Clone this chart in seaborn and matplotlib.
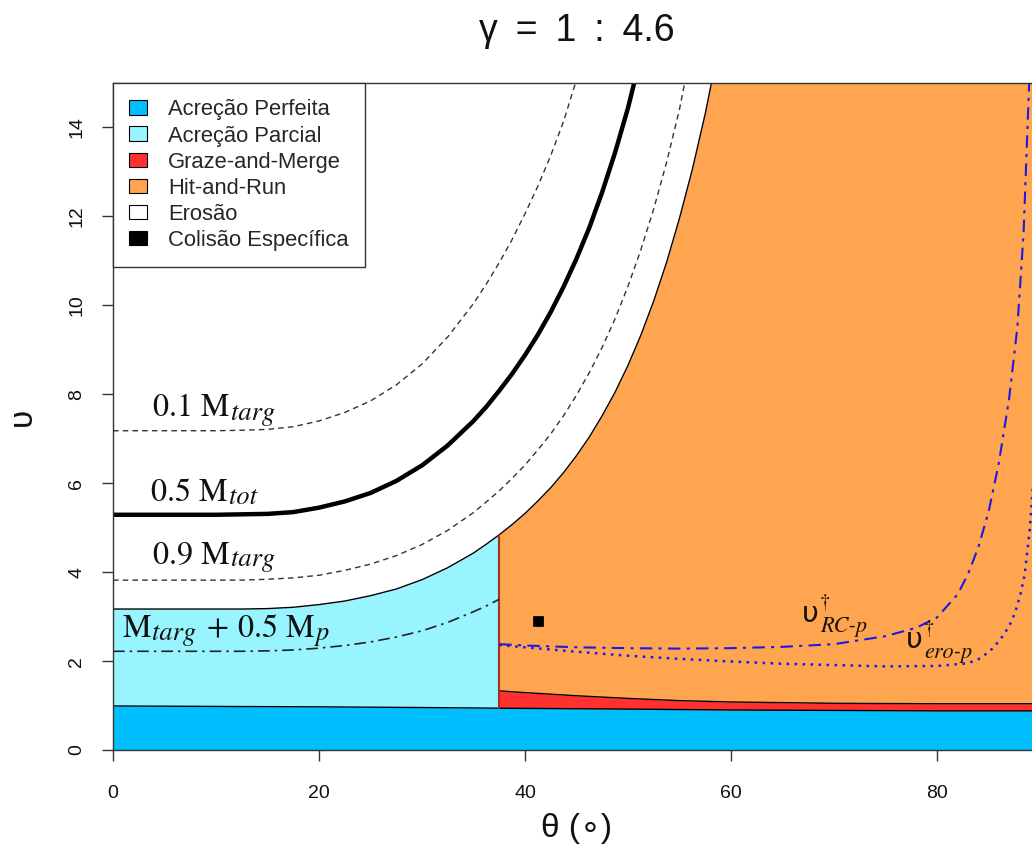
import numpy as np
import matplotlib
matplotlib.use("Agg")
import matplotlib.pyplot as plt
import seaborn as sns
from matplotlib.patches import Patch
from matplotlib.transforms import offset_copy

sns.set_theme(style="white")
plt.rcParams["font.family"] = ["Liberation Sans", "DejaVu Sans"]

# ---------------- data ----------------
title_text = "γ \u2009= \u20091 \u2009: \u20094.6"
legend_labels = ["Acreção Perfeita", "Acreção Parcial", "Graze-and-Merge",
                 "Hit-and-Run", "Erosão", "Colisão Específica"]
legend_colors = ["#00BFFF", "#98F5FF", "#FF3030", "#FFA54F", "#FFFFFF", "#000000"]

x_ticks = [0, 20, 40, 60, 80]
y_ticks = [0, 2, 4, 6, 8, 10, 12, 14]

theta_split = 37.5  # boundary between partial accretion and hit-and-run

# upper edge of perfect accretion
theta_pa = [0, 10, 20, 30, 37.5, 50, 60, 70, 80, 90]
v_pa = [0.99, 0.98, 0.97, 0.955, 0.94, 0.92, 0.90, 0.89, 0.88, 0.88]

# upper edge of graze-and-merge
theta_gm = [37.5, 40, 45, 50, 55, 60, 70, 80, 90]
v_gm = [1.33, 1.29, 1.22, 1.16, 1.11, 1.08, 1.05, 1.04, 1.04]

# erosion onset (lower edge of the white region)
theta_ero = [0, 5, 10, 12.5, 15, 17.5, 20, 22.5, 25, 27.5, 30, 32.5, 35, 36.25,
             37.5, 38.75, 40, 41.25, 42.5, 43.75, 45, 46.25, 47.5, 48.75, 50,
             51.25, 52.5, 53.75, 55, 56.25, 57.5, 58.1]
v_ero = [3.17, 3.17, 3.17, 3.17, 3.18, 3.21, 3.27, 3.35, 3.47, 3.62, 3.83, 4.10,
         4.43, 4.63, 4.84, 5.07, 5.32, 5.60, 5.90, 6.24, 6.62, 7.04, 7.52, 8.05,
         8.65, 9.33, 10.10, 10.97, 11.96, 13.06, 14.31, 15.0]

# 0.1 M_targ
theta_01 = [0, 5, 10, 12.5, 15, 17.5, 20, 22.5, 25, 27.5, 30, 32.5, 35, 36.25,
            37.5, 38.75, 40, 41.25, 42.5, 43.75, 44.9]
v_01 = [7.18, 7.18, 7.18, 7.19, 7.21, 7.27, 7.40, 7.59, 7.85, 8.21, 8.68, 9.29,
        10.04, 10.48, 10.96, 11.48, 12.06, 12.68, 13.37, 14.14, 15.0]

# 0.5 M_tot
theta_05 = [0, 5, 10, 12.5, 15, 17.5, 20, 22.5, 25, 27.5, 30, 32.5, 35, 36.25,
            37.5, 38.75, 40, 41.25, 42.5, 43.75, 45, 46.25, 47.5, 48.75, 50, 50.6]
v_05 = [5.29, 5.29, 5.29, 5.30, 5.31, 5.35, 5.45, 5.59, 5.78, 6.05, 6.40, 6.85,
        7.40, 7.72, 8.08, 8.46, 8.88, 9.34, 9.85, 10.42, 11.05, 11.75, 12.55,
        13.44, 14.44, 15.0]

# 0.9 M_targ
theta_09 = [0, 5, 10, 12.5, 15, 17.5, 20, 22.5, 25, 27.5, 30, 32.5, 35, 36.25,
            37.5, 38.75, 40, 41.25, 42.5, 43.75, 45, 46.25, 47.5, 48.75, 50,
            51.25, 52.5, 53.75, 55, 55.5]
v_09 = [3.82, 3.82, 3.82, 3.82, 3.84, 3.87, 3.93, 4.04, 4.18, 4.37, 4.62, 4.94,
        5.34, 5.58, 5.83, 6.11, 6.41, 6.75, 7.11, 7.52, 7.98, 8.49, 9.06, 9.70,
        10.43, 11.25, 12.17, 13.22, 14.41, 15.0]

# M_targ + 0.5 M_p
theta_mp = [0, 5, 10, 12.5, 15, 17.5, 20, 22.5, 25, 27.5, 30, 32.5, 35, 36.25, 37.5]
v_mp = [2.22, 2.22, 2.22, 2.22, 2.23, 2.25, 2.29, 2.35, 2.43, 2.54, 2.68, 2.87,
        3.11, 3.24, 3.39]

# v_RC-p (blue dash-dot)
theta_rc = [37.5, 40, 45, 50, 55, 60, 65, 70, 75, 78, 80, 82, 83, 84, 85, 86,
            87, 87.8, 88.4, 88.95]
v_rc = [2.38, 2.35, 2.31, 2.29, 2.28, 2.29, 2.32, 2.38, 2.56, 2.75, 2.98, 3.50,
        3.95, 4.55, 5.35, 6.45, 7.90, 9.50, 11.60, 15.0]

# v_ero-p (blue dotted)
theta_ep = [37.5, 40, 45, 50, 55, 60, 65, 70, 75, 80, 83, 84.2, 85.2, 86.1, 87,
            87.6, 88.1, 88.5, 89.0, 89.4]
v_ep = [2.36, 2.31, 2.21, 2.12, 2.05, 1.99, 1.94, 1.91, 1.88, 1.89, 1.95, 2.06,
        2.24, 2.47, 2.78, 3.10, 3.50, 3.93, 4.94, 6.2]

# specific collision
theta_pt = [41.3]
v_pt = [2.9]

# ---------------- figure ----------------
fig = plt.figure(figsize=(10.32, 8.5), dpi=100)
ax = fig.add_axes([113 / 1032, 100 / 850, 927 / 1032, 667 / 850])
ax.set_xlim(0, 90)
ax.set_ylim(0, 15)

t_pa = np.asarray(theta_pa, float); y_pa = np.asarray(v_pa, float)
t_gm = np.asarray(theta_gm, float); y_gm = np.asarray(v_gm, float)
t_er = np.asarray(theta_ero, float); y_er = np.asarray(v_ero, float)

# perfect accretion
ax.fill_between(t_pa, 0, y_pa, color=legend_colors[0], lw=0, zorder=1)
# partial accretion
t_c = t_er[t_er <= theta_split]
ax.fill_between(t_c, np.interp(t_c, t_pa, y_pa), np.interp(t_c, t_er, y_er),
                color=legend_colors[1], lw=0, zorder=1)
# graze-and-merge
ax.fill_between(t_gm, np.interp(t_gm, t_pa, y_pa), y_gm,
                color=legend_colors[2], lw=0, zorder=1)
# hit-and-run
t_o = np.union1d(t_gm, t_er[t_er >= theta_split])
ax.fill_between(t_o, np.interp(t_o, t_gm, y_gm), np.interp(t_o, t_er, y_er),
                color=legend_colors[3], lw=0, zorder=1)

kw = dict(ax=ax, estimator=None, sort=False, legend=False)
# region edges
sns.lineplot(x=t_pa, y=y_pa, color="black", lw=1.0, zorder=2, **kw)
sns.lineplot(x=t_gm, y=y_gm, color="black", lw=1.0, zorder=2, **kw)
sns.lineplot(x=t_er, y=y_er, color="black", lw=1.0, zorder=2, **kw)
ax.plot([theta_split, theta_split],
        [np.interp(theta_split, t_pa, y_pa), np.interp(theta_split, t_er, y_er)],
        color="#A8301E", lw=1.5, zorder=2)

# mass contours
sns.lineplot(x=theta_01, y=v_01, color="#333333", lw=1.0,
             linestyle=(0, (4, 3)), zorder=3, **kw)
sns.lineplot(x=theta_09, y=v_09, color="#333333", lw=1.0,
             linestyle=(0, (4, 3)), zorder=3, **kw)
sns.lineplot(x=theta_05, y=v_05, color="black", lw=3.2, zorder=3, **kw)
sns.lineplot(x=theta_mp, y=v_mp, color="#222222", lw=1.2,
             linestyle=(0, (7, 3, 1.5, 3)), zorder=3, **kw)

# blue curves
sns.lineplot(x=theta_rc, y=v_rc, color="#1A1AE6", lw=1.5,
             linestyle=(0, (6, 3, 1.5, 3)), zorder=3, **kw)
sns.lineplot(x=theta_ep, y=v_ep, color="#1A1AE6", lw=1.8,
             linestyle=(0, (1, 2.2)), zorder=3, **kw)

sns.scatterplot(x=theta_pt, y=v_pt, marker="s", s=45, color="black",
                edgecolor="black", zorder=4, ax=ax, legend=False)

# ---------------- curve labels (built piece by piece) ----------------
renderer = fig.canvas.get_renderer()
MAIN = dict(family="STIXGeneral", fontsize=23, color="#111111")
SUB = dict(family="STIXGeneral", style="italic", fontsize=19, color="#111111")


def place(x, y, pieces):
    dx = 0.0
    for txt, props, dy, gap in pieces:
        dx += gap
        tr = offset_copy(ax.transData, fig=fig, x=dx, y=dy, units="dots")
        t = ax.text(x, y, txt, transform=tr, ha="left", va="baseline",
                    zorder=5, **props)
        dx += t.get_window_extent(renderer).width


place(3.9, 7.5, [("0.1 M", MAIN, 0, 0), ("targ", SUB, -3, 1)])
place(3.7, 5.6, [("0.5 M", MAIN, 0, 0), ("tot", SUB, -3, 1)])
place(3.9, 4.2, [("0.9 M", MAIN, 0, 0), ("targ", SUB, -3, 1)])
place(0.95, 2.55, [("M", MAIN, 0, 0), ("targ", SUB, -3, 1),
                   ("+", MAIN, 0, 10), ("0.5 M", MAIN, 0, 10), ("p", SUB, -3, 1)])

UPS = dict(family=["DejaVu Sans"], fontsize=21, color="#1a1208")
DAG = dict(family="STIXGeneral", fontsize=15, color="#1a1208")
USUB = dict(family="STIXGeneral", style="italic", fontsize=16, color="#1a1208")


def place_ups(x, y, sub):
    tr = offset_copy(ax.transData, fig=fig, x=0, y=0, units="dots")
    t = ax.text(x, y, "υ", transform=tr, ha="left", va="baseline", zorder=5, **UPS)
    w = t.get_window_extent(renderer).width
    ax.text(x, y, "†", transform=offset_copy(ax.transData, fig=fig, x=w + 1,
            y=14, units="dots"), ha="left", va="baseline", zorder=5, **DAG)
    ax.text(x, y, sub, transform=offset_copy(ax.transData, fig=fig, x=w + 1,
            y=-10, units="dots"), ha="left", va="baseline", zorder=5, **USUB)


place_ups(66.9, 2.88, "RC-p")
place_ups(77.0, 2.29, "ero-p")

# ---------------- axes styling ----------------
ax.set_xticks(x_ticks)
ax.set_yticks(y_ticks)
ax.set_yticklabels([str(v) for v in y_ticks], rotation=90, va="center")
ax.tick_params(axis="both", which="major", direction="out", length=8, width=1,
               color="#333333", labelsize=14, labelcolor="#111111",
               bottom=True, left=True)
ax.tick_params(axis="x", pad=17)
ax.tick_params(axis="y", pad=12)
for side in ["left", "bottom", "top", "right"]:
    ax.spines[side].set_color("#333333")
    ax.spines[side].set_linewidth(1.0)
    ax.spines[side].set_zorder(6)

ax.set_xlabel("θ (∘)", fontsize=24, labelpad=8, color="#111111")
ax.set_ylabel("υ", fontsize=24, labelpad=22, color="#111111")
ax.set_title(title_text, fontsize=27, pad=30, color="#111111")

handles = [Patch(facecolor=c, edgecolor="black", linewidth=0.8, label=l)
           for c, l in zip(legend_colors, legend_labels)]
leg = ax.legend(handles=handles, loc="upper left", bbox_to_anchor=(0, 1),
                borderaxespad=0, fontsize=15.8, frameon=True, fancybox=False,
                edgecolor="#333333", framealpha=1, handlelength=0.82,
                handleheight=0.65, handletextpad=0.95, labelspacing=0.23,
                borderpad=0.75)
leg.get_frame().set_linewidth(1.0)
leg.set_zorder(7)

fig.savefig("out.png", dpi=100)
